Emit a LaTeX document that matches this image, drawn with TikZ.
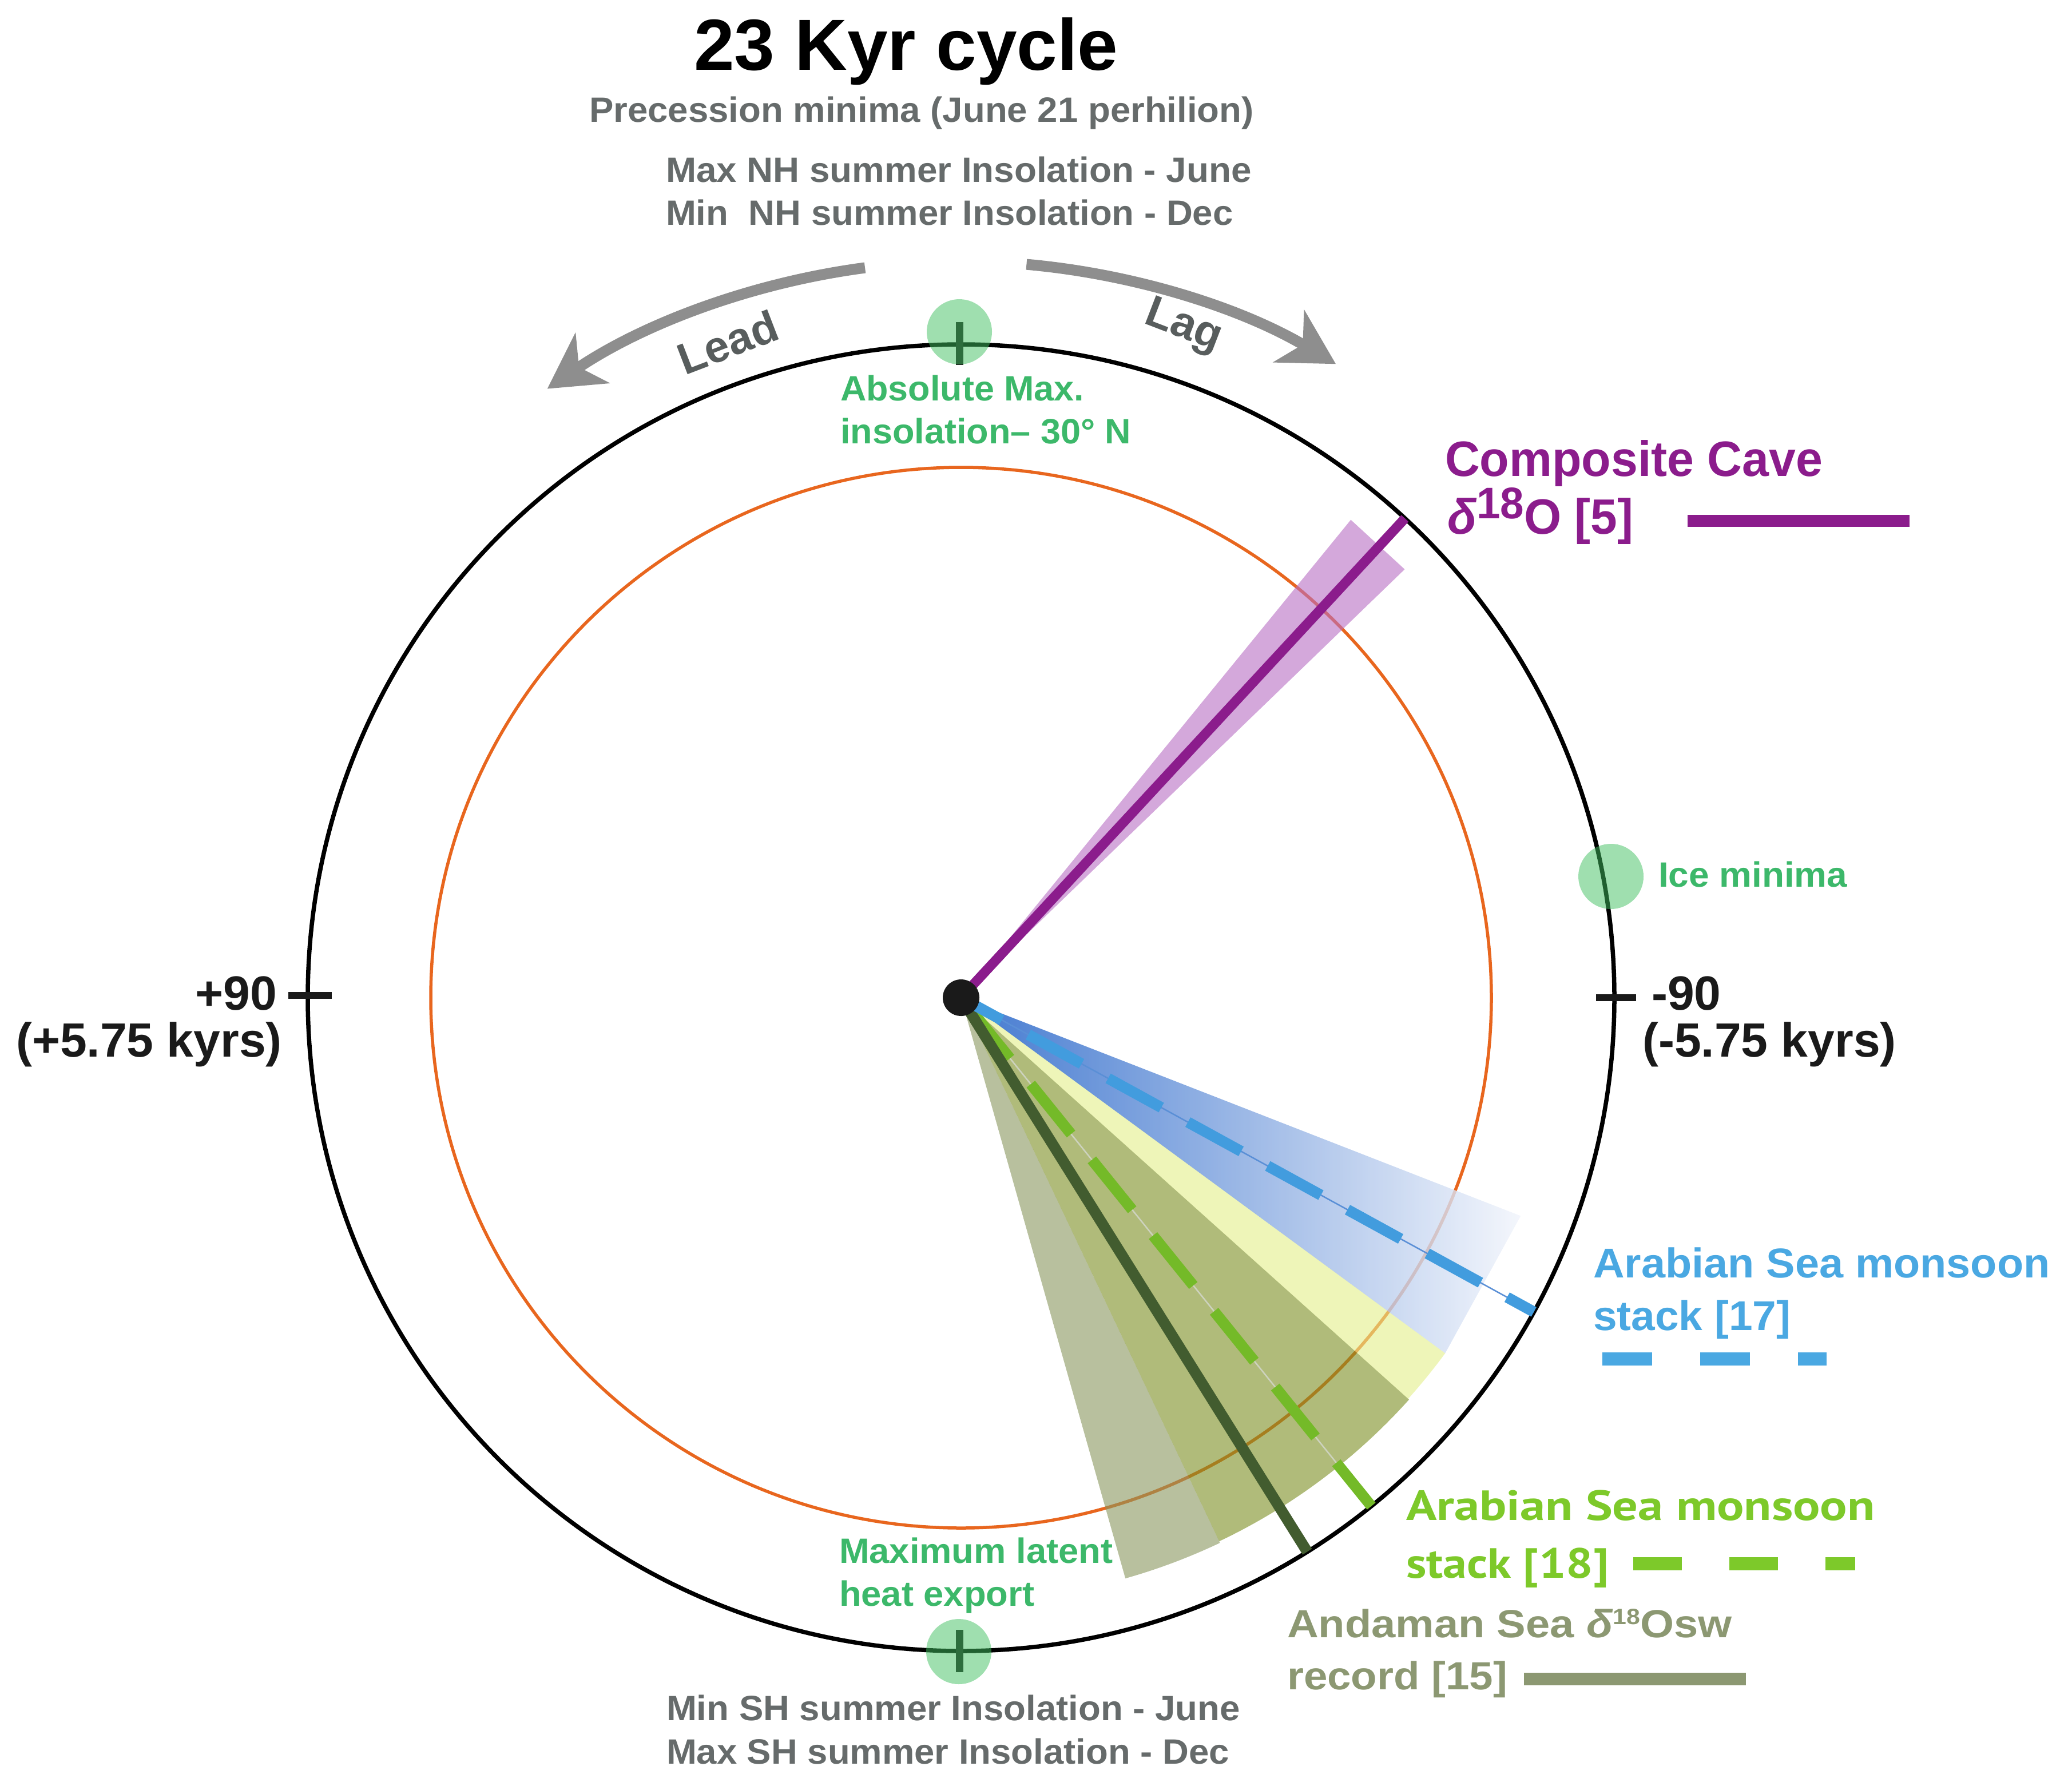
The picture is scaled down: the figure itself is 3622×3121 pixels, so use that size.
\documentclass[tikz,border=0pt]{standalone}
\usepackage{fontspec}
\setmainfont{Liberation Sans}
\newfontfamily\ptsans{PT Sans}
\usetikzlibrary{arrows.meta}
\newcommand\fitw[2]{\resizebox{#1}{\height}{#2}}
\definecolor{purp}{RGB}{139,28,140}
\definecolor{purpshade}{RGB}{183,110,195}
\definecolor{blueT}{RGB}{74,168,226}
\definecolor{blueD}{RGB}{66,156,222}
\definecolor{blueL}{RGB}{20,88,196}
\definecolor{blueR}{RGB}{241,244,251}
\definecolor{greenT}{RGB}{125,201,42}
\definecolor{greenD}{RGB}{116,186,40}
\definecolor{labgreen}{RGB}{60,184,106}
\definecolor{blobgreen}{RGB}{64,192,96}
\definecolor{andam}{RGB}{140,152,114}
\definecolor{greyT}{RGB}{102,107,107}
\definecolor{leadT}{RGB}{88,93,93}
\definecolor{arrowG}{RGB}{142,142,142}
\definecolor{darkgr}{RGB}{66,92,47}
\definecolor{blackT}{RGB}{26,26,26}
\definecolor{orangeC}{RGB}{232,102,30}
\definecolor{yelC}{RGB}{227,238,137}
\definecolor{oliveC}{RGB}{123,142,33}
\definecolor{greyolC}{RGB}{137,150,93}
\definecolor{hairG}{RGB}{205,210,190}
\definecolor{hairB}{RGB}{90,143,214}
\begin{document}
\begin{tikzpicture}[x=0.01cm,y=0.01cm,
  txt/.style={inner sep=0pt, outer sep=0pt, anchor=base west},
  greytxt/.style={txt, text=greyT, font=\bfseries\fontsize{17.5}{20}\selectfont},
  greentxt/.style={txt, text=labgreen, font=\bfseries\fontsize{17.5}{20}\selectfont},
  axtxt/.style={txt, text=blackT, font=\bfseries\fontsize{23.9}{26}\selectfont},
  leadlag/.style={inner sep=0pt, text=leadT, font=\bfseries\fontsize{22}{24}\selectfont},
  blob/.style={fill=blobgreen, fill opacity=0.5},
  ticks/.style={blackT, line width=0.13cm},
  grarrow/.style={arrowG, line width=0.19cm, -{Stealth[length=0.95cm, width=1.05cm, inset=0.28cm]}},
  wedge/.style={fill opacity=0.6}
]
\useasboundingbox (0,0) rectangle (3622,-3121);
\coordinate (C) at (1680,-1744);

% orange circle
\draw[orangeC, line width=0.055cm] (C) circle[radius=927];

\begin{scope}[shift={(C)}]
  % wedges
  \fill[purpshade, wedge] (0,0) -- (44:1078) -- (50.8:1078) -- cycle;
  \shade[left color=blueL, right color=blueR, fill opacity=0.8] (0,0) -- (-21.3:1050) -- (-36.3:1050) -- cycle;
  \fill[yelC, wedge] (0,0) -- (-36.3:1050) arc[start angle=-36.3, end angle=-41.9, radius=1050] -- cycle;
  \fill[oliveC, wedge] (0,0) -- (-41.9:1052) arc[start angle=-41.9, end angle=-64.6, radius=1052] -- cycle;
  \fill[greyolC, wedge] (0,0) -- (-64.6:1055) arc[start angle=-64.6, end angle=-74.2, radius=1055] -- cycle;
\end{scope}

% outer circle
\draw[black, line width=0.075cm] (C) circle[radius=1142];

\begin{scope}[shift={(C)}]
  % green dashed
  \draw[hairG, line width=0.025cm] (0,0) -- (-51.1:1142);
  \draw[greenD, line width=0.19cm, dash pattern=on 1.12cm off 0.58cm, dash phase=1.46cm] (0,0) -- (-51.1:1142);
  % dark green
  \draw[darkgr, line width=0.19cm] (0,0) -- (-58:1142);
  % blue dashed
  \draw[hairB, line width=0.025cm] (0,0) -- (-28.75:1142);
  \draw[blueD, line width=0.19cm, dash pattern=on 1.06cm off 0.53cm, dash phase=0.25cm] (0,0) -- (-28.75:1142);
  % purple
  \draw[purp, line width=0.17cm] (0,0) -- (47.2:1142);
  % black dot
  \fill[blackT] (0,0) circle[radius=32];
  % grey arrows
  \draw[grarrow] (97.5:1287) arc[start angle=97.5, end angle=124.2, radius=1287];
  \draw[grarrow] (84.9:1287) arc[start angle=84.9, end angle=59.4, radius=1287];
\end{scope}

% ticks
\draw[ticks] (1677,-563) -- (1677,-638);
\draw[ticks] (1677,-2849) -- (1677,-2923);
\draw[ticks, line width=0.12cm] (504,-1740) -- (580,-1740);
\draw[ticks, line width=0.12cm] (2790,-1744) -- (2860,-1744);

% green blobs
\fill[blob] (1677,-580) circle[radius=57];
\fill[blob] (1676,-2887) circle[radius=57];
\fill[blob] (2816,-1532) circle[radius=57];

% title and top texts
\node[txt, text=black, font=\bfseries\fontsize{36}{40}\selectfont] (title) at (1213,-123) {\fitw{7.41cm}{23 Kyr cycle}};
\node[greytxt] (prec) at (1030,-213) {\fitw{11.61cm}{Precession minima (June 21 perhilion)}};
\node[greytxt] (maxnh) at (1164,-318) {\fitw{10.23cm}{Max NH summer Insolation - June}};
\node[greytxt] (minnh) at (1164,-393) {\fitw{9.91cm}{Min~~NH summer Insolation - Dec}};

\node[leadlag, rotate=21] (lead) at (1272,-598) {Lead};
\node[leadlag, rotate=-21] (lag) at (2068,-572) {Lag};

\node[greentxt] (absmax) at (1469,-700) {\fitw{4.26cm}{Absolute Max.}};
\node[greentxt] (absmax2) at (1469,-775) {\fitw{5.08cm}{insolation– 30° N}};
\node[greentxt] (ice) at (2899,-1550) {\fitw{3.30cm}{Ice minima}};
\node[greentxt] (latent) at (1467,-2732) {\fitw{4.78cm}{Maximum latent}};
\node[greentxt] (latent2) at (1467,-2807) {\fitw{3.41cm}{heat export}};

\node[greytxt] (minsh) at (1165,-3007) {\fitw{10.02cm}{Min SH summer Insolation - June}};
\node[greytxt] (maxsh) at (1165,-3083) {\fitw{9.83cm}{Max SH summer Insolation - Dec}};

% axis labels
\node[axtxt, anchor=base east] (p90) at (484,-1765) {+90};
\node[axtxt, anchor=base east] (p90b) at (493,-1847) {(+5.75 kyrs)};
\node[axtxt] (m90) at (2887,-1765) {-90};
\node[axtxt] (m90b) at (2871,-1847) {(-5.75 kyrs)};

% Composite cave
\node[txt, text=purp, font=\bfseries\fontsize{24.7}{27}\selectfont] (cave) at (2526,-832) {\fitw{6.60cm}{Composite Cave}};
\node[txt, text=purp, font=\bfseries\fontsize{24.7}{27}\selectfont] (cave2) at (2530,-933) {\fitw{3.25cm}{{\itshape δ}\raisebox{0.3em}{\fontsize{22}{22}\selectfont 18}O [5]}};
\coordinate (cl1) at (2950,-910);
\coordinate (cl2) at (3338,-910);
\draw[purp, line width=0.21cm] (cl1) -- (cl2);

% Arabian Sea [17]
\node[txt, text=blueT, font=\bfseries\fontsize{20.7}{23}\selectfont] (ar17) at (2785,-2233) {\fitw{7.98cm}{Arabian Sea monsoon}};
\node[txt, text=blueT, font=\bfseries\fontsize{20.7}{23}\selectfont] (ar17b) at (2785,-2325) {\fitw{3.45cm}{stack [17]}};
\coordinate (bl1) at (2801,-2375);
\coordinate (bl2) at (3193,-2375);
\draw[blueT, line width=0.23cm, dash pattern=on 0.87cm off 0.84cm] (bl1) -- (bl2);

% Arabian Sea [18]
\node[txt, text=greenT, font=\ptsans\bfseries\fontsize{21}{23}\selectfont] (ar18) at (2458,-2657) {\fitw{8.19cm}{Arabian Sea monsoon}};
\node[txt, text=greenT, font=\ptsans\bfseries\fontsize{21}{23}\selectfont] (ar18b) at (2458,-2758) {\fitw{3.54cm}{stack [18]}};
\coordinate (gl1) at (2855,-2733);
\coordinate (gl2) at (3243,-2733);
\draw[greenT, line width=0.23cm, dash pattern=on 0.85cm off 0.83cm] (gl1) -- (gl2);

% Andaman
\node[txt, text=andam, font=\bfseries\fontsize{19.5}{22}\selectfont] (and) at (2250,-2862) {\fitw{7.77cm}{Andaman Sea {\itshape δ}\raisebox{0.33em}{\fontsize{11}{11}\selectfont 18}Osw}};
\node[txt, text=andam, font=\bfseries\fontsize{19.5}{22}\selectfont] (and2) at (2250,-2953) {\fitw{3.85cm}{record [15]}};
\coordinate (al1) at (2664,-2935);
\coordinate (al2) at (3052,-2935);
\draw[andam, line width=0.22cm] (al1) -- (al2);
\end{tikzpicture}
\end{document}
